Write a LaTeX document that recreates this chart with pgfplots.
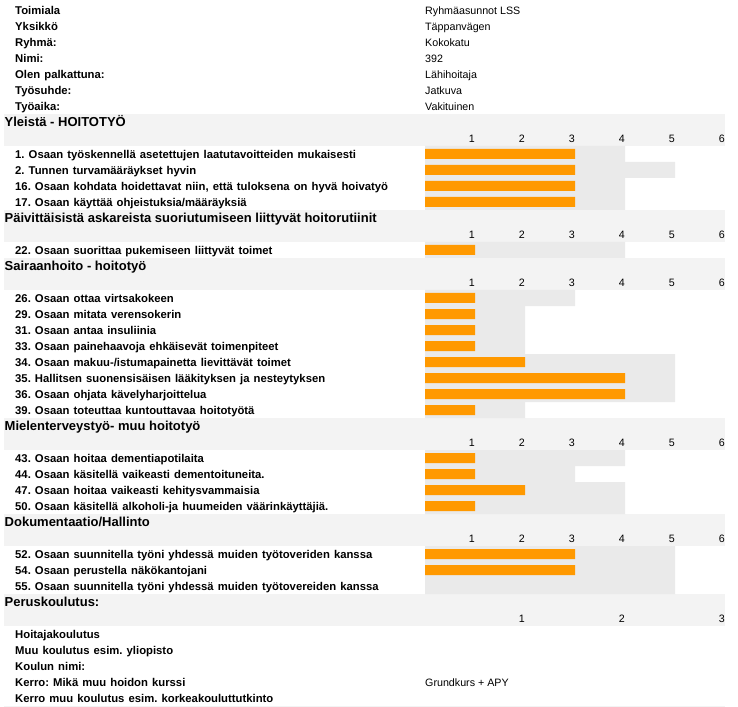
\documentclass[border=0pt]{standalone}
\usepackage{pgfplots}
\pgfplotsset{compat=1.18}
\usepackage{fontspec}
\setmainfont{Liberation Sans}
\frenchspacing
\definecolor{band}{HTML}{F3F3F3}
\definecolor{bargray}{HTML}{EAEAEA}
\definecolor{barorange}{HTML}{FF9900}
\newcommand{\lblf}{\fontsize{11.3bp}{12bp}\selectfont\bfseries\spaceskip=4.1bp\relax}
\newcommand{\valf}{\fontsize{10.7bp}{12bp}\selectfont}
\newcommand{\hdrf}{\fontsize{13bp}{14bp}\selectfont\bfseries}
\tikzset{
  lb/.style={anchor=base west,inner sep=0pt,font=\lblf},
  vl/.style={anchor=base west,inner sep=0pt,font=\valf},
  hd/.style={anchor=base west,inner sep=0pt,font=\hdrf},
  tk/.style={anchor=base east,inner sep=0pt,font=\valf},
}
\newcommand{\ticksix}[1]{%
  \node[tk] at (axis cs:475,#1) {1};
  \node[tk] at (axis cs:525,#1) {2};
  \node[tk] at (axis cs:575,#1) {3};
  \node[tk] at (axis cs:625,#1) {4};
  \node[tk] at (axis cs:675,#1) {5};
  \node[tk] at (axis cs:725,#1) {6};}
\newcommand{\band}[1]{\fill[band] (axis cs:4,#1) rectangle (axis cs:725,#1+32);}
\begin{document}
\begin{tikzpicture}
% layout axis: pixel coordinates
\begin{axis}[at={(0,0)},anchor=south west,scale only axis,width=738bp,height=707bp,
  xmin=0,xmax=738,ymin=0,ymax=707,y dir=reverse,hide axis,clip=false]
\path (axis cs:0,0) rectangle (axis cs:738,707);
\band{114}
\band{210}
\band{258}
\band{418}
\band{514}
\band{594}
\fill[band] (axis cs:4,706) rectangle (axis cs:725,707);
% header info
\node[lb] at (axis cs:15,14.3) {Toimiala};
\node[lb] at (axis cs:15,30.3) {Yksikkö};
\node[lb] at (axis cs:15,46.3) {Ryhmä:};
\node[lb] at (axis cs:15,62.3) {Nimi:};
\node[lb] at (axis cs:15,78.3) {Olen palkattuna:};
\node[lb] at (axis cs:15,94.3) {Työsuhde:};
\node[lb] at (axis cs:15,110.3) {Työaika:};
\node[vl] at (axis cs:425,14.3) {Ryhmäasunnot LSS};
\node[vl] at (axis cs:425,30.3) {Täppanvägen};
\node[vl] at (axis cs:425,46.3) {Kokokatu};
\node[vl] at (axis cs:425,62.3) {392};
\node[vl] at (axis cs:425,78.3) {Lähihoitaja};
\node[vl] at (axis cs:425,94.3) {Jatkuva};
\node[vl] at (axis cs:425,110.3) {Vakituinen};
% section 1
\node[hd] at (axis cs:4.5,126.3) {Yleistä - HOITOTYÖ};
\ticksix{142.3}
\node[lb] at (axis cs:15,158.3) {1. Osaan työskennellä asetettujen laatutavoitteiden mukaisesti};
\node[lb] at (axis cs:15,174.3) {2. Tunnen turvamääräykset hyvin};
\node[lb] at (axis cs:15,190.3) {16. Osaan kohdata hoidettavat niin, että tuloksena on hyvä hoivatyö};
\node[lb] at (axis cs:15,206.3) {17. Osaan käyttää ohjeistuksia/määräyksiä};
% section 2
\node[hd] at (axis cs:4.5,222.3) {Päivittäisistä askareista suoriutumiseen liittyvät hoitorutiinit};
\ticksix{238.3}
\node[lb] at (axis cs:15,254.3) {22. Osaan suorittaa pukemiseen liittyvät toimet};
% section 3
\node[hd] at (axis cs:4.5,270.3) {Sairaanhoito - hoitotyö};
\ticksix{286.3}
\node[lb] at (axis cs:15,302.3) {26. Osaan ottaa virtsakokeen};
\node[lb] at (axis cs:15,318.3) {29. Osaan mitata verensokerin};
\node[lb] at (axis cs:15,334.3) {31. Osaan antaa insuliinia};
\node[lb] at (axis cs:15,350.3) {33. Osaan painehaavoja ehkäisevät toimenpiteet};
\node[lb] at (axis cs:15,366.3) {34. Osaan makuu-/istumapainetta lievittävät toimet};
\node[lb] at (axis cs:15,382.3) {35. Hallitsen suonensisäisen lääkityksen ja nesteytyksen};
\node[lb] at (axis cs:15,398.3) {36. Osaan ohjata kävelyharjoittelua};
\node[lb] at (axis cs:15,414.3) {39. Osaan toteuttaa kuntouttavaa hoitotyötä};
% section 4
\node[hd] at (axis cs:4.5,430.3) {Mielenterveystyö- muu hoitotyö};
\ticksix{446.3}
\node[lb] at (axis cs:15,462.3) {43. Osaan hoitaa dementiapotilaita};
\node[lb] at (axis cs:15,478.3) {44. Osaan käsitellä vaikeasti dementoituneita.};
\node[lb] at (axis cs:15,494.3) {47. Osaan hoitaa vaikeasti kehitysvammaisia};
\node[lb] at (axis cs:15,510.3) {50. Osaan käsitellä alkoholi-ja huumeiden väärinkäyttäjiä.};
% section 5
\node[hd] at (axis cs:4.5,526.3) {Dokumentaatio/Hallinto};
\ticksix{542.3}
\node[lb] at (axis cs:15,558.3) {52. Osaan suunnitella työni yhdessä muiden työtoveriden kanssa};
\node[lb] at (axis cs:15,574.3) {54. Osaan perustella näkökantojani};
\node[lb] at (axis cs:15,590.3) {55. Osaan suunnitella työni yhdessä muiden työtovereiden kanssa};
% section 6
\node[hd] at (axis cs:4.5,606.3) {Peruskoulutus:};
\node[tk] at (axis cs:525,622.3) {1};
\node[tk] at (axis cs:625,622.3) {2};
\node[tk] at (axis cs:725,622.3) {3};
\node[lb] at (axis cs:15,638.3) {Hoitajakoulutus};
\node[lb] at (axis cs:15,654.3) {Muu koulutus esim. yliopisto};
\node[lb] at (axis cs:15,670.3) {Koulun nimi:};
\node[lb] at (axis cs:15,686.3) {Kerro: Mikä muu hoidon kurssi};
\node[lb] at (axis cs:15,702.3) {Kerro muu koulutus esim. korkeakouluttutkinto};
\node[vl] at (axis cs:425,686.3) {Grundkurs + APY};
\end{axis}
% bar axis: value 0 at 425px, 50px per unit
\begin{axis}[at={(0,0)},anchor=south west,scale only axis,width=738bp,height=707bp,
  xmin=-8.5,xmax=6.26,ymin=0,ymax=707,y dir=reverse,hide axis,clip=false]
\addplot[xbar,bar shift=0pt,bar width=16bp,fill=bargray,draw=none] coordinates {
 (4,154) (5,170) (4,186) (4,202)
 (4,250)
 (3,298) (2,314) (2,330) (2,346) (5,362) (5,378) (5,394) (2,410)
 (4,458) (3,474) (4,490) (4,506)
 (5,554) (5,570) (5,586)};
\addplot[xbar,bar shift=0pt,bar width=10bp,fill=barorange,draw=none] coordinates {
 (3,154) (3,170) (3,186) (3,202)
 (1,250)
 (1,298) (1,314) (1,330) (1,346) (2,362) (4,378) (4,394) (1,410)
 (1,458) (1,474) (2,490) (1,506)
 (3,554) (3,570)};
\end{axis}
\end{tikzpicture}
\end{document}
